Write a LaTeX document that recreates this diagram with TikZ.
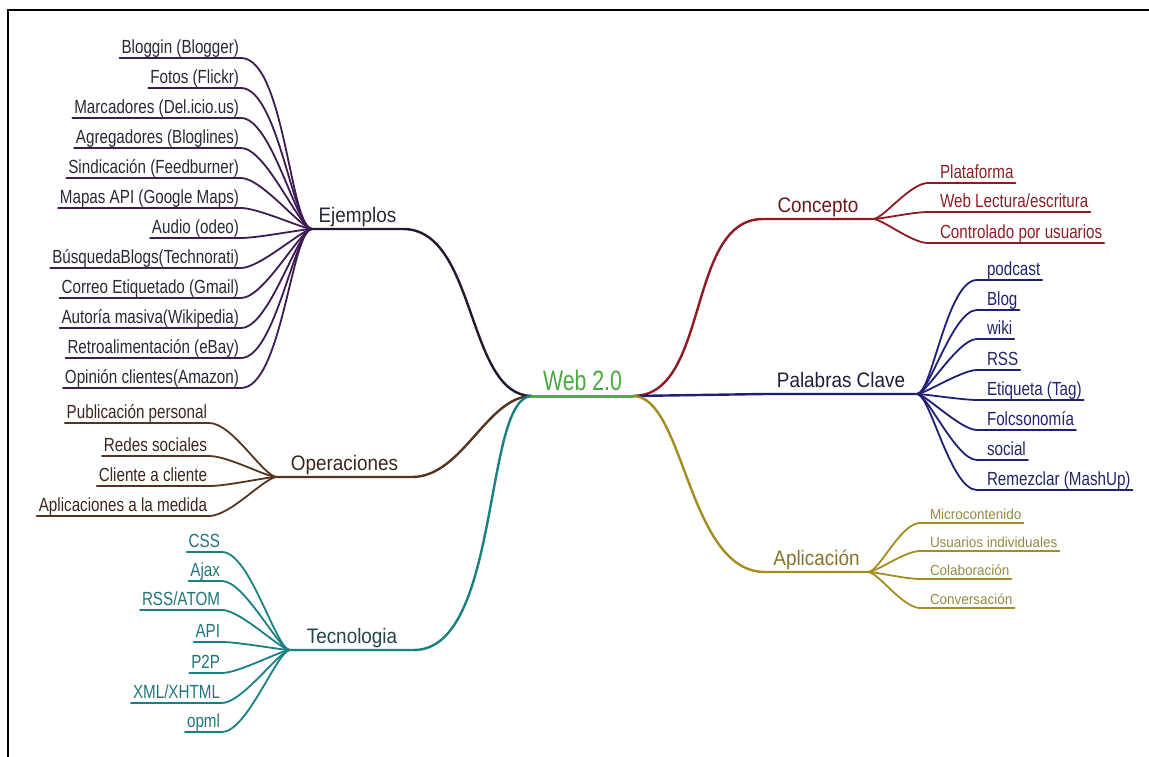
\documentclass[tikz,border=0pt]{standalone}
\usepackage{fontspec}
\setmainfont{Liberation Sans}
\newfontfamily\myfsub[FakeStretch=0.8]{Liberation Sans}
\newfontfamily\myfsmall[FakeStretch=0.93]{Liberation Sans}
\newfontfamily\myfmain[FakeStretch=0.9]{Liberation Sans}
\newfontfamily\myfweb[FakeStretch=0.76]{Liberation Sans}
\definecolor{ejL}{RGB}{62,28,82}
\definecolor{ejM}{RGB}{38,22,48}
\definecolor{ejT}{RGB}{45,38,55}
\definecolor{opL}{RGB}{88,52,32}
\definecolor{opT}{RGB}{60,38,28}
\definecolor{teL}{RGB}{25,128,132}
\definecolor{teT}{RGB}{30,118,124}
\definecolor{teM}{RGB}{35,70,75}
\definecolor{coL}{RGB}{145,25,35}
\definecolor{coT}{RGB}{140,30,38}
\definecolor{coM}{RGB}{105,25,30}
\definecolor{pcL}{RGB}{30,32,115}
\definecolor{pcT}{RGB}{32,36,110}
\definecolor{pcM}{RGB}{30,30,60}
\definecolor{apL}{RGB}{165,140,30}
\definecolor{apT}{RGB}{150,135,65}
\definecolor{apM}{RGB}{135,115,40}
\definecolor{webG}{RGB}{60,185,50}
\definecolor{webT}{RGB}{70,170,60}
\begin{document}
\begin{tikzpicture}[x=1pt,y=-1pt,
  leaf/.style={font=\myfsub\fontsize{19}{19}\selectfont, inner xsep=2pt, inner ysep=4.6pt, text depth=0pt, outer sep=0pt},
  leafsmall/.style={font=\myfsmall\fontsize{14.5}{14.5}\selectfont, inner xsep=2pt, inner ysep=3.8pt, text depth=0pt, outer sep=0pt},
  branch/.style={font=\myfmain\fontsize{21}{21}\selectfont, inner xsep=0pt, inner ysep=6.5pt, text depth=0pt, outer sep=0pt, anchor=south},
  webst/.style={font=\myfweb\fontsize{28}{28}\selectfont, inner xsep=0pt, inner ysep=5.5pt, text depth=0pt, outer sep=0pt, anchor=south, minimum width=101pt, text=webT},
  subln/.style={line width=1.8pt, line cap=round},
  mainln/.style={line width=2.4pt, line cap=round},
]
\useasboundingbox (0,0) rectangle (1149,757);
% frame
\draw[line width=2pt, black] (7,10) -- (1149,10);
\draw[line width=2pt, black] (7.7,9) -- (7.7,757);

% centre and branch labels
\node[webst] (web) at (582.5,396) {Web 2.0};
\node[branch, text=ejT, minimum width=91pt] (ej) at (357.5,229) {Ejemplos};
\node[branch, text=opT, minimum width=135pt] (op) at (344.5,477) {Operaciones};
\node[branch, text=teM, minimum width=124pt] (te) at (352,650) {Tecnologia};
\node[branch, text=coM, minimum width=110pt] (co) at (818,219) {Concepto};
\node[branch, text=pcM, minimum width=152pt] (pc) at (841,394) {Palabras Clave};
\node[branch, text=apM, minimum width=103pt] (ap) at (816.5,572) {Aplicación};

% main connectors
\draw[mainln, ejM] (web.south west) to[out=180,in=0,out looseness=0.8,in looseness=0.9] (ej.south east) -- (ej.south west);
\draw[mainln, opL] (web.south west) to[out=180,in=0,out looseness=0.8,in looseness=0.9] (op.south east) -- (op.south west);
\draw[mainln, teL] (web.south west) to[out=180,in=0,out looseness=0.45,in looseness=0.8] (te.south east) -- (te.south west);
\draw[mainln, coL] (web.south east) to[out=0,in=180,looseness=0.9] (co.south west) -- (co.south east);
\draw[mainln, pcL] (web.south east) -- (pc.south west) -- (pc.south east);
\draw[mainln, apL] (web.south east) to[out=0,in=180,out looseness=0.6,in looseness=0.9] (ap.south west) -- (ap.south east);
\draw[line width=3pt, webG, line cap=round] (web.south west) -- (web.south east);

% Ejemplos
\foreach \y/\t [count=\i] in {58/Bloggin (Blogger), 88/Fotos (Flickr), 118/Marcadores (Del.icio.us), 148/Agregadores (Bloglines), 178/Sindicación (Feedburner), 208/Mapas API (Google Maps), 238/Audio (odeo), 268/BúsquedaBlogs(Technorati), 298/Correo Etiquetado (Gmail), 328/Autoría masiva(Wikipedia), 358/Retroalimentación (eBay), 388/Opinión clientes(Amazon)} {
  \node[leaf, text=ejT, anchor=south east] (e\i) at (241,\y) {\t};
  \draw[subln, ejL] (e\i.south west) -- (e\i.south east) to[out=0,in=180,out looseness=0.6,in looseness=0.3] (ej.south west);
}

% Operaciones
\foreach \y/\t [count=\i] in {423/Publicación personal, 456/Redes sociales, 486/Cliente a cliente, 516/Aplicaciones a la medida} {
  \node[leaf, text=opT, anchor=south east] (o\i) at (209,\y) {\t};
  \draw[subln, opL] (o\i.south west) -- (o\i.south east) to[out=0,in=180,out looseness=0.7,in looseness=0.4] (op.south west);
}

% Tecnologia
\foreach \y/\t [count=\i] in {552/CSS, 581/Ajax, 610/{RSS/ATOM}, 642/API, 673/P2P, 703/{XML/XHTML}, 732/opml} {
  \node[leaf, text=teT, anchor=south east] (t\i) at (222,\y) {\t};
  \draw[subln, teL] (t\i.south west) -- (t\i.south east) to[out=0,in=180,out looseness=0.6,in looseness=0.3] (te.south west);
}

% Concepto
\foreach \y/\t [count=\i] in {183/Plataforma, 212/{Web Lectura/escritura}, 243/Controlado por usuarios} {
  \node[leaf, text=coT, anchor=south west] (c\i) at (938,\y) {\t};
  \draw[subln, coL] (co.south east) to[out=0,in=180,out looseness=0.4,in looseness=0.7] ([xshift=-10pt]c\i.south west) -- (c\i.south east);
}

% Palabras Clave
\foreach \y/\t [count=\i] in {280/podcast, 310/Blog, 339/wiki, 370/RSS, 400/Etiqueta (Tag), 430/Folcsonomía, 460/social, 490/Remezclar (MashUp)} {
  \node[leaf, text=pcT, anchor=south west] (p\i) at (985,\y) {\t};
  \draw[subln, pcL] (pc.south east) to[out=0,in=180,out looseness=0.3,in looseness=0.6] ([xshift=-8pt]p\i.south west) -- (p\i.south east);
}

% Aplicacion
\foreach \y/\t [count=\i] in {523/Microcontenido, 551/Usuarios individuales, 579/Colaboración, 608/Conversación} {
  \node[leafsmall, text=apT, anchor=south west] (a\i) at (928,\y) {\t};
  \draw[subln, apL] (ap.south east) to[out=0,in=180,out looseness=0.4,in looseness=0.7] ([xshift=-8pt]a\i.south west) -- (a\i.south east);
}
\end{tikzpicture}
\end{document}
